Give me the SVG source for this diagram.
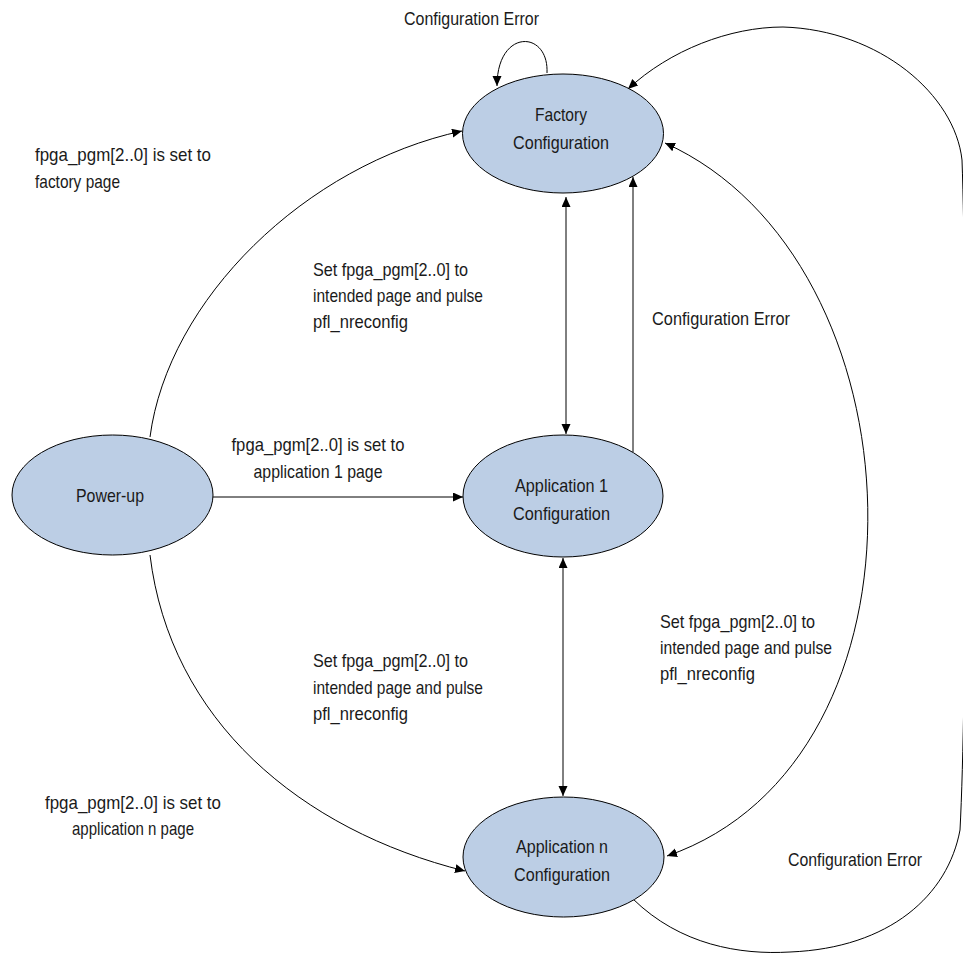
<svg xmlns="http://www.w3.org/2000/svg" width="963" height="953" viewBox="0 0 963 953">
<style>
.node{fill:#bccee5;stroke:#000;stroke-width:1}
.c{fill:none;stroke:#000;stroke-width:1}
text{font-family:"Liberation Sans Narrow","Liberation Sans",Arial,sans-serif;font-size:19px;fill:#1a1a1a}
.m{text-anchor:middle}
</style>
<defs>
<marker id="ah" markerUnits="userSpaceOnUse" markerWidth="11" markerHeight="10" refX="10" refY="4.5" orient="auto-start-reverse">
<path d="M0,0 L10,4.5 L0,9 z" fill="#000"/>
</marker>
</defs>
<rect width="963" height="953" fill="#fff"/>
<g id="connectors">
<path class="c" d="M547,73 C549,30 497,28 497,86" marker-end="url(#ah)"/>
<path class="c" d="M150,437 C168,300 305,165 462,131" marker-end="url(#ah)"/>
<path class="c" d="M213,497 L463,497" marker-end="url(#ah)"/>
<path class="c" d="M150,555 C170,720 300,830 465,871" marker-end="url(#ah)"/>
<path class="c" d="M566,434 L566,197" marker-start="url(#ah)" marker-end="url(#ah)"/>
<path class="c" d="M633,452 L633,177" marker-end="url(#ah)"/>
<path class="c" d="M563,796 L563,558" marker-start="url(#ah)" marker-end="url(#ah)"/>
<path class="c" d="M665,143 C925,260 945,760 667,856" marker-start="url(#ah)" marker-end="url(#ah)"/>
<path class="c" d="M633,899 C680,945 740,955 790,952 C890,948 948,895 960,830 C967,700 967,300 962,160 C955,95 880,30 783,27 C730,27 670,50 628,89" marker-end="url(#ah)"/>
</g>
<g id="factory">
<ellipse class="node" cx="563" cy="133.5" rx="100.5" ry="59.5"/>
<text class="m" x="561" y="121" textLength="52" lengthAdjust="spacingAndGlyphs">Factory</text>
<text class="m" x="561" y="149" textLength="96" lengthAdjust="spacingAndGlyphs">Configuration</text>
</g>
<g id="powerup">
<ellipse class="node" cx="112.5" cy="495" rx="100.5" ry="60"/>
<text class="m" x="110" y="502" textLength="68" lengthAdjust="spacingAndGlyphs">Power-up</text>
</g>
<g id="app1">
<ellipse class="node" cx="563" cy="496" rx="100" ry="61"/>
<text class="m" x="561.5" y="492" textLength="93" lengthAdjust="spacingAndGlyphs">Application 1</text>
<text class="m" x="561.5" y="520" textLength="97" lengthAdjust="spacingAndGlyphs">Configuration</text>
</g>
<g id="appn">
<ellipse class="node" cx="563.5" cy="857" rx="100.5" ry="60"/>
<text class="m" x="562" y="853" textLength="92" lengthAdjust="spacingAndGlyphs">Application n</text>
<text class="m" x="562" y="881" textLength="96" lengthAdjust="spacingAndGlyphs">Configuration</text>
</g>
<g id="labels">
<text x="404" y="25" textLength="135" lengthAdjust="spacingAndGlyphs">Configuration Error</text>
<text x="35" y="161" textLength="176" lengthAdjust="spacingAndGlyphs">fpga_pgm[2..0] is set to</text>
<text x="35" y="188" textLength="85" lengthAdjust="spacingAndGlyphs">factory page</text>
<text x="313" y="276" textLength="155" lengthAdjust="spacingAndGlyphs">Set fpga_pgm[2..0] to</text>
<text x="313" y="302" textLength="170" lengthAdjust="spacingAndGlyphs">intended page and pulse</text>
<text x="313" y="328" textLength="95" lengthAdjust="spacingAndGlyphs">pfl_nreconfig</text>
<text x="652" y="325" textLength="138" lengthAdjust="spacingAndGlyphs">Configuration Error</text>
<text class="m" x="318" y="451" textLength="173" lengthAdjust="spacingAndGlyphs">fpga_pgm[2..0] is set to</text>
<text class="m" x="318" y="478" textLength="129" lengthAdjust="spacingAndGlyphs">application 1 page</text>
<text x="660" y="628" textLength="155" lengthAdjust="spacingAndGlyphs">Set fpga_pgm[2..0] to</text>
<text x="660" y="654" textLength="172" lengthAdjust="spacingAndGlyphs">intended page and pulse</text>
<text x="660" y="680" textLength="95" lengthAdjust="spacingAndGlyphs">pfl_nreconfig</text>
<text x="313" y="667" textLength="155" lengthAdjust="spacingAndGlyphs">Set fpga_pgm[2..0] to</text>
<text x="313" y="694" textLength="170" lengthAdjust="spacingAndGlyphs">intended page and pulse</text>
<text x="313" y="720" textLength="95" lengthAdjust="spacingAndGlyphs">pfl_nreconfig</text>
<text class="m" x="133" y="809" textLength="176" lengthAdjust="spacingAndGlyphs">fpga_pgm[2..0] is set to</text>
<text class="m" x="133" y="835" textLength="122" lengthAdjust="spacingAndGlyphs">application n page</text>
<text x="788" y="866" textLength="134" lengthAdjust="spacingAndGlyphs">Configuration Error</text>
</g>
</svg>
